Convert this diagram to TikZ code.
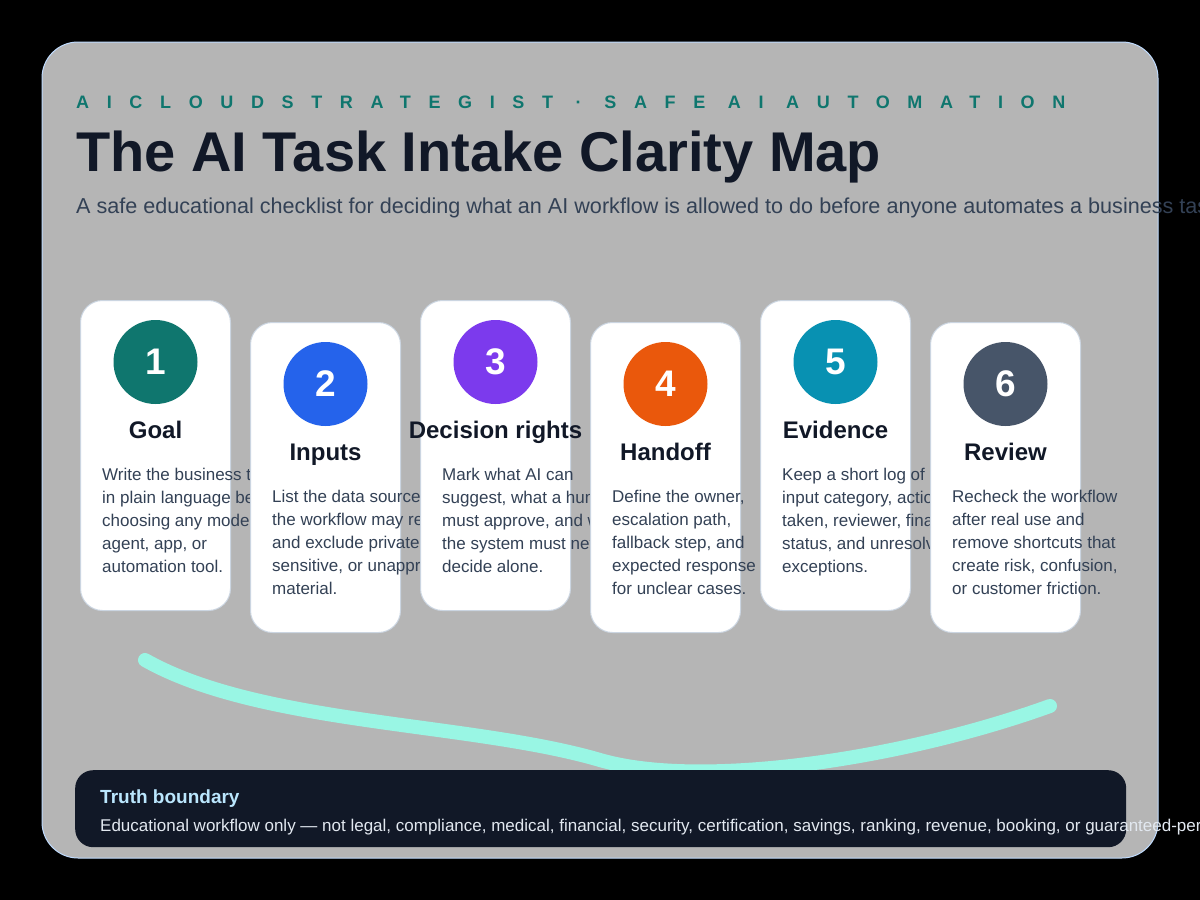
\documentclass[tikz,border=0pt]{standalone}
\usepackage{fontspec}
\setmainfont{Liberation Sans}
\usetikzlibrary{positioning,calc}
\definecolor{iblack}{HTML}{000000}
\definecolor{igrey}{HTML}{B5B5B5}
\definecolor{iedge}{HTML}{BFDBFE}
\definecolor{iteal}{HTML}{0F766E}
\definecolor{inavy}{HTML}{111827}
\definecolor{islate}{HTML}{334155}
\definecolor{iline}{HTML}{CBD5E1}
\definecolor{iblue}{HTML}{2563EB}
\definecolor{iviolet}{HTML}{7C3AED}
\definecolor{iorange}{HTML}{EA580C}
\definecolor{icyan}{HTML}{0891B2}
\definecolor{igraphite}{HTML}{475569}
\definecolor{imint}{HTML}{99F6E4}
\definecolor{isky}{HTML}{BAE6FD}
\definecolor{imist}{HTML}{E2E8F0}
\tikzset{
  card/.style={draw=iline,fill=white,rounded corners=22pt,line width=1pt,minimum width=150pt,minimum height=310pt,inner sep=0pt},
  badge/.style={circle,minimum size=84pt,inner sep=0pt,text=white,font=\bfseries\fontsize{37}{40}\selectfont},
  ctitle/.style={text=inavy,font=\bfseries\fontsize{24}{28}\selectfont,inner sep=0pt},
  cbody/.style={text=islate,font=\fontsize{17}{23}\selectfont,align=left,inner sep=0pt},
  bound/.style={fill=inavy,rounded corners=18pt,minimum width=1051pt,minimum height=77pt,inner sep=0pt},
}

\begin{document}
\begin{tikzpicture}[x=1pt,y=-1pt,
  kicker/.style={text=iteal,inner sep=0pt,font=\bfseries\fontsize{18}{20}\selectfont\addfontfeature{LetterSpace=98}},
  headline/.style={text=inavy,inner sep=0pt,font=\bfseries\fontsize{56}{60}\selectfont},
  lede/.style={text=islate,inner sep=0pt,font=\fontsize{21.6}{24}\selectfont}]
  \useasboundingbox (0,0) rectangle (1200,900);
  \fill[iblack] (0,0) rectangle (1200,900);
  \draw[iedge,fill=igrey,rounded corners=36pt,line width=1pt] (42,42) rectangle (1158,858);
  \node[kicker,anchor=base west] (brand) at (76,108) {AICLOUDSTRATEGIST · SAFE AI AUTOMATION};
  \node[headline,anchor=base west] (title) at (76,171) {The AI Task Intake Clarity Map};
  \node[lede,anchor=base west] (lede) at (76,213) {A safe educational checklist for deciding what an AI workflow is allowed to do before anyone automates a business task.};
  \foreach \c/\t/\d [count=\ix] in {
      iteal/{Goal}/{Write the business t\\in plain language be\\choosing any model,\\agent, app, or\\automation tool.},
      iblue/{Inputs}/{List the data sources\\the workflow may re\\and exclude private,\\sensitive, or unappro\\material.},
      iviolet/{Decision rights}/{Mark what AI can\\suggest, what a hum\\must approve, and w\\the system must nev\\decide alone.},
      iorange/{Handoff}/{Define the owner,\\escalation path,\\fallback step, and\\expected response t\\for unclear cases.},
      icyan/{Evidence}/{Keep a short log of\\input category, actio\\taken, reviewer, fina\\status, and unresolv\\exceptions.},
      igraphite/{Review}/{Recheck the workflow\\after real use and\\remove shortcuts that\\create risk, confusion,\\or customer friction.}} {
    \pgfmathsetmacro{\x}{80+170*(\ix-1)}
    \pgfmathsetmacro{\y}{300+22*(1-mod(\ix,2))}
    \node[card,anchor=north west] (C\ix) at (\x,\y) {};
    \node[badge,fill=\c] (B\ix) at ($(C\ix.north)+(0,62)$) {\ix};
    \node[ctitle,anchor=base] (T\ix) at ($(C\ix.north)+(0,138.5)$) {\t};
    \node[cbody,anchor=north west] (D\ix) at ($(C\ix.north west)+(22,167.7)$) {\d};
  }
  % mint wave under the steps
  \coordinate (w0) at (145,660);
  \coordinate (w1) at (600,760);
  \coordinate (w2) at (1050,706);
  \draw[imint,line width=14pt,line cap=round] (w0) .. controls (260,725) and (470,722) .. (w1)
    .. controls (700,789) and (900,760) .. (w2);
  \node[bound,anchor=north west] (limit) at (75,770) {};
  \node[text=isky,font=\bfseries\fontsize{19}{22}\selectfont,inner sep=0pt,anchor=base west] (limithead) at (100,803) {Truth boundary};
  \node[text=imist,font=\fontsize{17}{20}\selectfont,inner sep=0pt,anchor=base west] (limittext) at (100,831) {Educational workflow only --- not legal, compliance, medical, financial, security, certification, savings, ranking, revenue, booking, or guaranteed-performance claims.};
\end{tikzpicture}
\end{document}
